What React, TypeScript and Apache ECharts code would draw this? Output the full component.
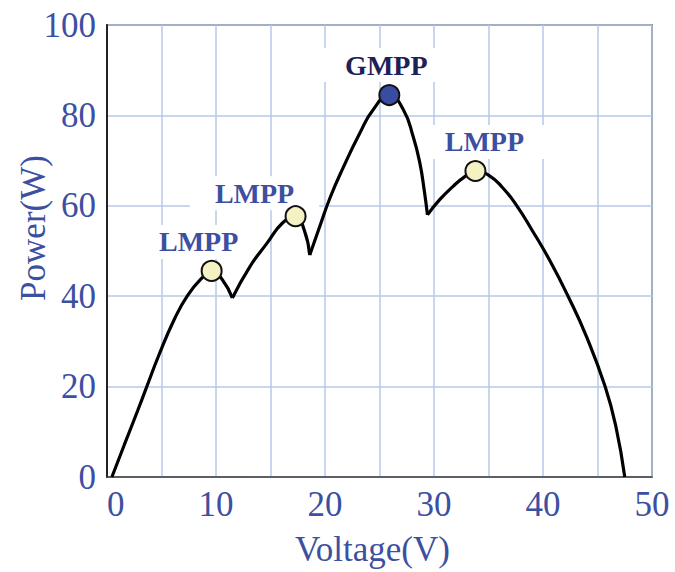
import React, { useEffect, useRef } from 'react';
import * as echarts from 'echarts';

// P-V curve of a partially shaded PV array, split at the sharp bypass-diode dips
const seg1V = [0.45, 1.6, 2.8, 3.65, 4.7, 6.2, 7.4, 8.7, 9.6, 10.6, 11.5];
const seg1P = [0, 7.2, 14.6, 20, 26.6, 35.0, 40.2, 44.0, 45.6, 43.6, 39.6];
const seg2V = [11.5, 13.1, 14.7, 16.1, 17.3, 18.1, 18.6];
const seg2P = [39.6, 46.5, 51.8, 56.2, 57.7, 54.6, 49.1];
const seg3V = [18.6, 19.5, 20.5, 21.7, 23.2, 24.4, 25.9, 27.2, 28.1, 28.7, 29.1, 29.4];
const seg3P = [49.1, 55.3, 62, 68.6, 76.1, 81.2, 84.5, 81.2, 75.2, 69.5, 63.5, 58];
const seg4V = [29.4, 30.5, 31.7, 32.8, 33.8, 35.0, 36.3, 37.6, 39.0, 40.6, 42.3, 44.0, 45.7, 46.7, 47.5];
const seg4P = [58, 61.3, 64.2, 66.4, 67.7, 66.8, 64.0, 60.0, 54.6, 48.0, 40.0, 31.0, 20.0, 11.0, 0];

// maximum power points
const peakV = [9.6, 17.3, 25.9, 33.8];
const peakP = [45.6, 57.7, 84.5, 67.7];
const peakNames = ['LMPP', 'LMPP', 'GMPP', 'LMPP'];

const xAxisName = 'Voltage(V)';
const yAxisName = 'Power(W)';

// label placement (layout only)
const labelOffsets = [[-13, 0], [-41, 6], [-3, -1], [9, 0]];

const FONT = "'Liberation Serif', 'Times New Roman', serif";
const BLUE = '#3d4fa1';
const NAVY = '#1c2158';
const GRID = '#b7c8ea';

const zip = (a: number[], b: number[]) => a.map((v, i) => [v, b[i]]);

export default function App() {
  const ref = useRef<HTMLDivElement>(null);
  useEffect(() => {
    if (!ref.current) return;
    const chart = echarts.init(ref.current, undefined, { renderer: 'svg' });
    const segs = [zip(seg1V, seg1P), zip(seg2V, seg2P), zip(seg3V, seg3P), zip(seg4V, seg4P)];
    const lineSeries = segs.map((d) => ({
      type: 'line',
      data: d,
      smooth: 0.5,
      showSymbol: false,
      symbol: 'none',
      z: 3,
      lineStyle: { color: '#000', width: 3.2 },
      silent: true,
    }));
    const labelData = peakV.map((v, i) => ({
      value: [v, peakP[i]],
      label: {
        show: true,
        formatter: peakNames[i],
        position: 'top',
        distance: 3,
        offset: labelOffsets[i],
        color: peakNames[i] === 'GMPP' ? NAVY : BLUE,
        opacity: 1,
      },
    }));
    const markerData = peakV.map((v, i) => ({
      value: [v, peakP[i]],
      itemStyle: { color: peakNames[i] === 'GMPP' ? '#3a4ca2' : '#f4f1c2' },
    }));
    chart.setOption({
      animation: false,
      backgroundColor: '#fff',
      grid: {
        left: 107,
        right: 23,
        top: 25,
        bottom: 95,
        show: true,
        borderColor: '#333',
        borderWidth: 1.5,
        backgroundColor: 'transparent',
        containLabel: false,
        outerBoundsMode: 'none',
      },
      xAxis: {
        type: 'value',
        min: 0,
        max: 50,
        interval: 10,
        name: xAxisName,
        nameLocation: 'middle',
        nameGap: 55,
        nameMoveOverlap: false,
        nameTextStyle: { fontFamily: FONT, fontSize: 35, color: BLUE, padding: [0, 14, 0, 0] },
        axisLine: { show: true, lineStyle: { color: '#444', width: 1.5 } },
        axisTick: { show: false },
        axisLabel: { fontFamily: FONT, fontSize: 35, color: BLUE, margin: 10, alignMinLabel: 'left' },
        splitLine: { show: true, lineStyle: { color: GRID, width: 1.5 } },
        minorTick: { show: false, splitNumber: 2 },
        minorSplitLine: { show: true, lineStyle: { color: GRID, width: 1.5 } },
      },
      yAxis: {
        type: 'value',
        min: 0,
        max: 100,
        interval: 20,
        name: yAxisName,
        nameLocation: 'middle',
        nameRotate: 90,
        nameGap: 56,
        nameMoveOverlap: false,
        nameTextStyle: { fontFamily: FONT, fontSize: 35, color: BLUE, padding: [0, 0, 0, 46] },
        axisLine: { show: true, lineStyle: { color: '#222', width: 2 } },
        axisTick: { show: false },
        axisLabel: { fontFamily: FONT, fontSize: 35, color: BLUE, margin: 11 },
        splitLine: { show: true, lineStyle: { color: GRID, width: 1.5 } },
      },
      series: [
        {
          type: 'scatter',
          data: labelData,
          symbolSize: 18,
          itemStyle: { color: '#fff', opacity: 1 },
          z: 2,
          silent: true,
          label: {
            fontFamily: FONT,
            fontSize: 28,
            fontWeight: 'bold',
            lineHeight: 28,
            backgroundColor: '#fff',
            padding: [3, 25, 3, 25],
          },
        },
        ...lineSeries,
        {
          type: 'scatter',
          data: markerData,
          symbolSize: 20,
          z: 4,
          silent: true,
          itemStyle: { borderColor: '#111', borderWidth: 2, opacity: 1 },
        },
      ],
    });
    return () => chart.dispose();
  }, []);
  return (
    <div
      ref={ref}
      style={{ position: 'fixed', left: 0, top: 0, width: 675, height: 572 }}
    />
  );
}
